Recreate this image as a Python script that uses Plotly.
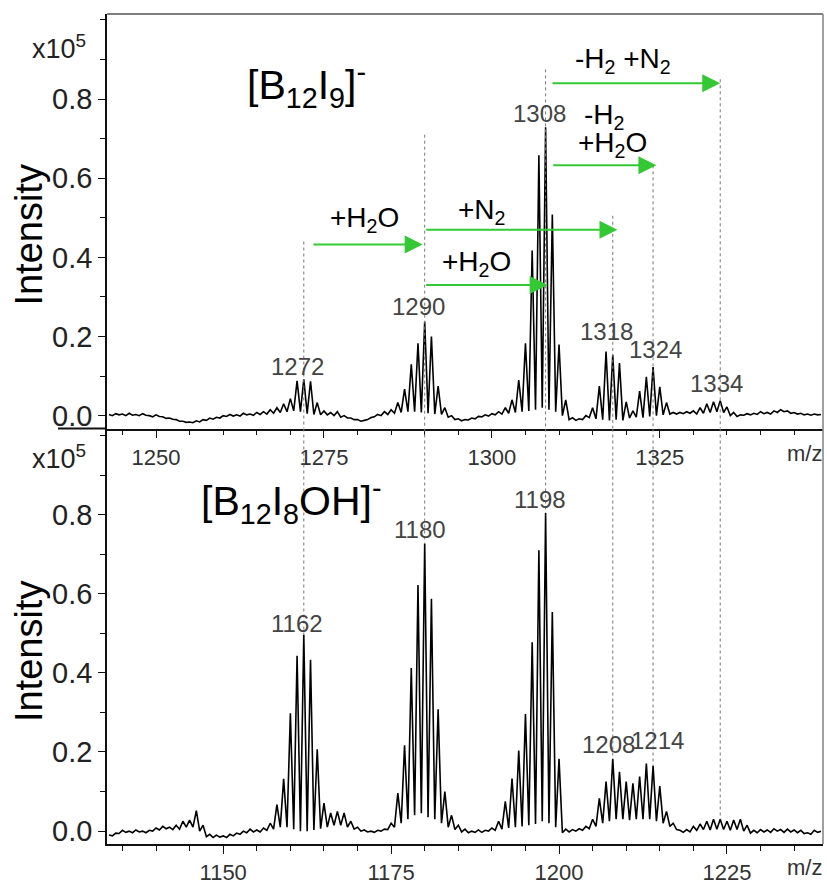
import plotly.graph_objects as go

# ---------------- data ----------------
# top spectrum [B12I9]- : intensity (x1e5) at integer m/z and at half-integer valleys
top_start, top_end = 1243, 1349
top_peaks = [
    0.003, 0.005, 0.004, 0.006, 0.003, 0.005, 0.000, 0.002, -0.003, -0.006,
    -0.010, -0.014, -0.016, -0.013, -0.010, -0.006, -0.004, 0.000, 0.003, 0.002,
    0.006, 0.004, 0.008, 0.010, 0.015, 0.020, 0.030, 0.043, 0.088, 0.092,
    0.087, 0.033, 0.012, 0.008, 0.010, 0.000, -0.006, -0.010, -0.012, -0.005,
    0.003, 0.010, 0.015, 0.033, 0.067, 0.130, 0.183, 0.238, 0.200, 0.075,
    0.020, 0.000, -0.008, -0.010, -0.006, -0.002, 0.002, 0.005, 0.010, 0.020,
    0.040, 0.090, 0.183, 0.417, 0.658, 0.729, 0.508, 0.180, 0.040, -0.005,
    -0.008, 0.000, 0.020, 0.075, 0.162, 0.154, 0.133, 0.035, 0.012, 0.062,
    0.098, 0.123, 0.073, 0.033, 0.008, 0.008, 0.010, 0.012, 0.020, 0.030,
    0.035, 0.038, 0.022, 0.008, 0.002, 0.005, 0.006, 0.010, 0.008, 0.012,
    0.015, 0.012, 0.008, 0.006, 0.004, 0.004, 0.003,
]
top_valleys = [
    0.000, 0.002, 0.000, 0.001, 0.000, 0.001, -0.003, -0.002, -0.007, -0.009,
    -0.014, -0.017, -0.018, -0.016, -0.012, -0.009, -0.006, -0.002, -0.001, -0.001,
    0.002, 0.001, 0.003, 0.004, 0.006, 0.008, 0.010, 0.012, 0.010, 0.005,
    0.003, 0.002, 0.002, 0.000, -0.004, -0.006, -0.010, -0.014, -0.010, -0.003,
    0.000, 0.003, 0.006, 0.008, 0.010, 0.010, 0.008, 0.006, 0.004, 0.003,
    -0.004, -0.010, -0.013, -0.011, -0.008, -0.003, -0.001, 0.002, 0.004, 0.006,
    0.008, 0.010, 0.012, 0.015, 0.020, 0.015, 0.010, 0.000, -0.010, -0.012,
    -0.010, -0.005, -0.008, -0.010, -0.012, -0.010, -0.012, -0.006, -0.004, -0.005,
    -0.002, 0.000, 0.002, 0.004, 0.004, 0.005, 0.006, 0.004, 0.006, 0.008,
    0.010, 0.008, 0.000, -0.002, 0.001, 0.002, 0.003, 0.005, 0.004, 0.008,
    0.010, 0.006, 0.004, 0.002, 0.001, 0.002,
]

# bottom spectrum [B12I8OH]-
bot_start, bot_end = 1133, 1239
bot_peaks = [
    -0.010, -0.005, 0.002, 0.000, 0.003, 0.000, 0.002, 0.008, 0.012, 0.010,
    0.015, 0.025, 0.028, 0.052, 0.015, -0.008, -0.010, -0.012, -0.008, -0.005,
    0.000, 0.005, 0.003, 0.008, 0.020, 0.067, 0.132, 0.298, 0.443, 0.496,
    0.433, 0.207, 0.071, 0.046, 0.050, 0.046, 0.025, 0.010, 0.003, 0.000,
    0.002, 0.005, 0.020, 0.096, 0.217, 0.412, 0.622, 0.727, 0.587, 0.308,
    0.100, 0.040, 0.015, 0.005, 0.000, 0.003, 0.002, 0.008, 0.025, 0.075,
    0.133, 0.204, 0.296, 0.477, 0.710, 0.804, 0.554, 0.183, 0.005, 0.004,
    0.006, 0.012, 0.030, 0.083, 0.125, 0.183, 0.150, 0.125, 0.121, 0.138,
    0.171, 0.165, 0.114, 0.050, 0.020, 0.002, 0.004, 0.012, 0.018, 0.025,
    0.030, 0.030, 0.025, 0.028, 0.030, 0.015, 0.002, 0.004, 0.003, 0.006,
    0.004, 0.005, 0.003, 0.002, -0.004, 0.002, 0.000,
]
bot_valleys = [
    -0.012, -0.006, -0.003, -0.004, -0.002, -0.004, 0.000, 0.003, 0.006, 0.004,
    0.005, 0.010, 0.010, 0.000, -0.014, -0.016, -0.015, -0.016, -0.012, -0.008,
    -0.004, -0.002, -0.002, 0.002, 0.005, 0.010, 0.010, 0.005, 0.000, 0.000,
    0.003, 0.006, 0.010, 0.015, 0.015, 0.010, 0.005, 0.000, -0.002, -0.003,
    0.000, 0.004, 0.010, 0.020, 0.030, 0.040, 0.045, 0.035, 0.030, 0.020,
    0.010, 0.004, -0.002, -0.004, -0.003, -0.003, 0.000, 0.002, 0.005, 0.008,
    0.010, 0.012, 0.015, 0.018, 0.025, 0.020, 0.010, -0.004, -0.002, 0.000,
    0.002, 0.006, 0.012, 0.020, 0.025, 0.030, 0.030, 0.028, 0.030, 0.030,
    0.030, 0.025, 0.020, 0.012, 0.004, -0.003, -0.002, 0.002, 0.004, 0.003,
    0.005, 0.004, 0.002, 0.004, 0.000, -0.005, -0.004, -0.002, -0.003, 0.000,
    -0.003, -0.002, -0.004, -0.006, -0.008, -0.003,
]

x_tick_top = [1250, 1275, 1300, 1325]
x_tick_bot = [1150, 1175, 1200, 1225]
y_tickvals = [0.0, 0.2, 0.4, 0.6, 0.8]
y_ticktext = ["0.0", "0.2", "0.4", "0.6", "0.8"]

# labelled peaks: text, label m/z position, label intensity position
top_labels = [("1272", 1271.0, 0.125), ("1290", 1289.1, 0.275), ("1308", 1307.1, 0.7625),
              ("1318", 1317.1, 0.2125), ("1324", 1324.4, 0.1675), ("1334", 1333.5, 0.08)]
bot_labels = [("1162", 1161.0, 0.525), ("1180", 1179.3, 0.7625), ("1198", 1197.1, 0.8375),
              ("1208", 1207.3, 0.22), ("1214", 1214.7, 0.23)]

# dotted guide lines (top m/z, top-panel start height, bottom m/z, bottom-panel end height)
guides = [(1272, 0.44, 1162, 0.496), (1290, 0.71, 1180, 0.727), (1308, 0.875, 1198, 0.804),
          (1318, 0.505, 1208, 0.183), (1324, 0.6325, 1214, 0.165), (1334, 0.85, 1224, 0.03)]

# green arrows: (start m/z, end m/z, height), labels (text, m/z, height)
arrows = [(1273.2, 1289.7, 0.4325), (1290.0, 1318.7, 0.47), (1290.0, 1308.3, 0.33),
          (1308.9, 1324.5, 0.6325), (1308.8, 1334.0, 0.84)]
arrow_labels = [("+H<sub>2</sub>O", 1281.0, 0.495), ("+N<sub>2</sub>", 1298.5, 0.515),
                ("+H<sub>2</sub>O", 1297.7, 0.385), ("-H<sub>2</sub>", 1316.7, 0.755),
                ("+H<sub>2</sub>O", 1317.9, 0.685), ("-H<sub>2</sub> +N<sub>2</sub>", 1319.5, 0.898)]


def build(start, end, peaks, valleys):
    xs, ys = [], []
    for i, m in enumerate(range(start, end + 1)):
        xs.append(m)
        ys.append(peaks[i])
        if i < len(valleys):
            xs.append(m + 0.5)
            ys.append(valleys[i])
    return xs, ys


tx, ty = build(top_start, top_end, top_peaks, top_valleys)
bx, by = build(bot_start, bot_end, bot_peaks, bot_valleys)

FONT = "Liberation Sans, Arial, sans-serif"
GREEN = "#34c934"

fig = go.Figure()
fig.add_trace(go.Scatter(x=tx, y=ty, xaxis="x", yaxis="y", mode="lines",
                         line=dict(color="black", width=1.6), showlegend=False, hoverinfo="skip"))
fig.add_trace(go.Scatter(x=bx, y=by, xaxis="x2", yaxis="y2", mode="lines",
                         line=dict(color="black", width=1.6), showlegend=False, hoverinfo="skip"))

W, H = 827, 889
L, R, T, B = 107, 4, 14, 36
PW, PH = W - L - R, H - T - B
split = (853 - 433) / PH


def px(xr):  # screenshot x -> paper fraction
    return (xr - L) / PW


def py(yr):  # screenshot y -> paper fraction
    return (H - B - yr) / PH


axis_common = dict(showgrid=False, zeroline=False, showline=True, linecolor="#111",
                   linewidth=1.6, ticks="outside", tickcolor="#111", tickwidth=1.4)

fig.update_layout(
    width=W, height=H, margin=dict(l=L, r=R, t=T, b=B),
    paper_bgcolor="white", plot_bgcolor="white",
    font=dict(family=FONT, color="black"),
    xaxis=dict(domain=[0, 1], anchor="y", range=[1242.7, 1349.3], tickmode="array",
               tickvals=x_tick_top, ticklen=8,
               tickfont=dict(size=22, color="#333"),
               minor=dict(ticks="outside", ticklen=5, dtick=5, tick0=1250, tickcolor="#111",
                          tickwidth=1.2, showgrid=False),
               **axis_common),
    yaxis=dict(domain=[split, 1], anchor="x", range=[-0.0325, 1.015], tickmode="array",
               tickvals=y_tickvals, ticktext=y_ticktext, ticklen=7,
               tickfont=dict(size=29, color="#222"),
               minor=dict(ticks="outside", ticklen=5, dtick=0.1, tick0=0, tickcolor="#111",
                          tickwidth=1.2, showgrid=False),
               **axis_common),
    xaxis2=dict(domain=[0, 1], anchor="y2", range=[1132.7, 1239.3], tickmode="array",
                tickvals=x_tick_bot, ticklen=8,
                tickfont=dict(size=22, color="#333"),
                minor=dict(ticks="outside", ticklen=5, dtick=5, tick0=1150, tickcolor="#111",
                           tickwidth=1.2, showgrid=False),
                **axis_common),
    yaxis2=dict(domain=[0, split], anchor="x2", range=[-0.0325, 1.0175], tickmode="array",
                tickvals=y_tickvals, ticktext=y_ticktext, ticklen=7,
                tickfont=dict(size=29, color="#222"),
                minor=dict(ticks="outside", ticklen=5, dtick=0.1, tick0=0, tickcolor="#111",
                           tickwidth=1.2, showgrid=False),
                **axis_common),
)

shapes = []
for tm, ttop, bm, bend in guides:
    shapes.append(dict(type="line", xref="x", yref="y", x0=tm, x1=tm, y0=ttop, y1=-0.0325,
                       line=dict(color="#777", width=1, dash="dot")))
    shapes.append(dict(type="line", xref="x2", yref="y2", x0=bm, x1=bm, y0=1.0175, y1=bend,
                       line=dict(color="#777", width=1, dash="dot")))
# extended baseline of the upper panel
shapes.append(dict(type="line", xref="paper", yref="paper", x0=px(58), x1=0, y0=split, y1=split,
                   line=dict(color="#111", width=2)))
# frame: top edge and right edges (grey)
shapes.append(dict(type="line", xref="paper", yref="paper", x0=0, x1=1, y0=1, y1=1,
                   line=dict(color="#555", width=1.6)))
shapes.append(dict(type="line", xref="paper", yref="paper", x0=1, x1=1, y0=0, y1=1,
                   line=dict(color="#888", width=1.6)))
fig.update_layout(shapes=shapes)

ann = []
for t, x, y in top_labels:
    ann.append(dict(x=x, y=y, xref="x", yref="y", text=t, showarrow=False,
                    xanchor="center", yanchor="middle", font=dict(size=24, color="#444")))
for t, x, y in bot_labels:
    ann.append(dict(x=x, y=y, xref="x2", yref="y2", text=t, showarrow=False,
                    xanchor="center", yanchor="middle", font=dict(size=24, color="#444")))
for x0, x1, y in arrows:
    ann.append(dict(x=x1, y=y, ax=x0, ay=y, xref="x", yref="y", axref="x", ayref="y",
                    text="", showarrow=True, arrowhead=2, arrowsize=1.8, arrowwidth=2,
                    arrowcolor=GREEN, standoff=0))
for t, x, y in arrow_labels:
    ann.append(dict(x=x, y=y, xref="x", yref="y", text=t, showarrow=False,
                    xanchor="center", yanchor="middle", font=dict(size=28, color="black")))


def pann(text, xr, yr, size, color="black", angle=0, xanchor="center"):
    return dict(x=px(xr), y=py(yr), xref="paper", yref="paper", showarrow=False,
                text=text, textangle=angle, xanchor=xanchor, yanchor="middle",
                font=dict(size=size, color=color))


ann += [
    pann("[B<sub>12</sub>I<sub>9</sub>]<sup>-</sup>", 306, 86, 41),
    pann("[B<sub>12</sub>I<sub>8</sub>OH]<sup>-</sup>", 291, 506, 41),
    pann("x10<sup>5</sup>", 59, 47, 27, "#222"),
    pann("x10<sup>5</sup>", 59, 462, 27, "#222"),
    pann("Intensity", 29, 237, 38, angle=-90),
    pann("Intensity", 29, 658, 38, angle=-90),
    pann("m/z", 824, 458, 22, "#333", xanchor="right"),
    pann("m/z", 824, 877, 22, "#333", xanchor="right"),
]
fig.update_layout(annotations=ann)

# remove the default 8px page margin so the figure fills the 827x889 window exactly
fig.write_html("out.html", config={"displayModeBar": False},
               post_script="document.body.style.margin='0px';")
